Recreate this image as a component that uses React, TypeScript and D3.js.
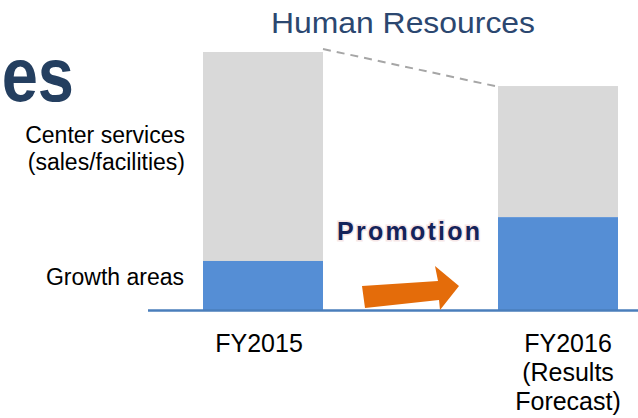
import React from "react";
import * as d3 from "d3";

const years = ["FY2015", "FY2016"];
const growthAreas = [19, 36];
const centerServices = [81, 50.8];
const yearLabels = [["FY2015"], ["FY2016", "(Results", "Forecast)"]];
const seriesLabels = [["Center services", "(sales/facilities)"], ["Growth areas"]];

const W = 638;
const H = 418;

export default function App() {
  const x = d3.scalePoint<string>().domain(years).range([263, 558]);
  const y = d3.scaleLinear().domain([0, 100]).range([310, 52]);
  const bw = 120;
  const totals = years.map((_, i) => growthAreas[i] + centerServices[i]);
  const font = "Liberation Sans, Arial, sans-serif";
  const labelDx = [-4, 10];

  const arrow = [
    [362, 286], [438, 281], [435, 266], [459, 286], [440, 310], [439, 300], [365, 308],
  ];

  const x0 = x(years[0])! + bw / 2;
  const x1 = x(years[1])! - bw / 2;
  const growthMid = (y(0) + y(growthAreas[0])) / 2;
  const centerMid = (y(growthAreas[0]) + y(totals[0])) / 2;

  return (
    <svg width={W} height={H} style={{ position: "absolute", left: 0, top: 0, background: "#fff" }}>
      <text x={74} y={101} textAnchor="end" fontFamily={font} fontWeight="bold" fontSize={65} fill="#243f60" transform="translate(0,101) scale(1,1.18) translate(0,-101)">es</text>
      <text x={403} y={33} textAnchor="middle" fontFamily={font} fontSize={29} fill="#2b4770" transform="translate(403,0) scale(1.1,1) translate(-403,0)">Human Resources</text>

      {years.map((yr, i) => (
        <g key={yr}>
          <rect x={x(yr)! - bw / 2} y={y(totals[i])} width={bw} height={y(growthAreas[i]) - y(totals[i])} fill="#d9d9d9" />
          <rect x={x(yr)! - bw / 2} y={y(growthAreas[i])} width={bw} height={y(0) - y(growthAreas[i])} fill="#558ed5" />
        </g>
      ))}

      <line x1={148} x2={638} y1={310.5} y2={310.5} stroke="#4a7ebb" strokeWidth={2.5} />

      <line x1={x0} y1={y(totals[0]) - 3} x2={x1 - 3} y2={y(totals[1])} stroke="#a6a6a6" strokeWidth={2} strokeDasharray="8,6" />

      <polygon points={arrow.map((p) => p.join(",")).join(" ")} fill="#e46c0a" />

      <text x={337} y={240} fontFamily={font} fontWeight="bold" fontSize={25} fill="#14235a" textLength={143} lengthAdjust="spacing"
        stroke="#f6e6e6" strokeWidth={3} paintOrder="stroke">Promotion</text>

      {seriesLabels[0].map((t, k) => (
        <text key={t} x={185} y={centerMid - 13 + k * 27} textAnchor="end" fontFamily={font} fontSize={23} fill="#000">{t}</text>
      ))}
      {seriesLabels[1].map((t, k) => (
        <text key={t} x={184} y={growthMid + 0 + k * 27} textAnchor="end" fontFamily={font} fontSize={23} fill="#000">{t}</text>
      ))}

      {years.map((yr, i) =>
        yearLabels[i].map((t, k) => (
          <text key={yr + t} x={x(yr)! + labelDx[i]} y={352 + k * 29} textAnchor="middle" fontFamily={font} fontSize={25} fill="#000">{t}</text>
        ))
      )}
    </svg>
  );
}
